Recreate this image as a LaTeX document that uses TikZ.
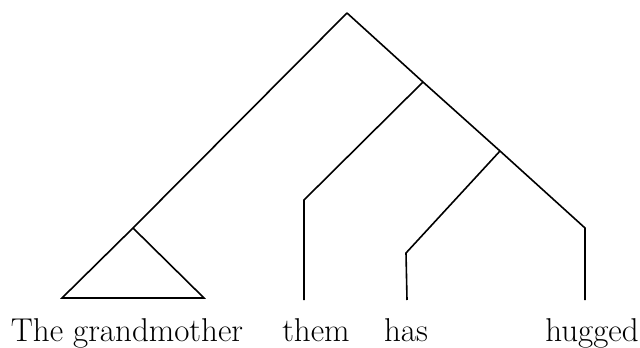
\documentclass[tikz,border=0pt]{standalone}
\usepackage{tikz}
\usetikzlibrary{positioning}

\begin{document}
\begin{tikzpicture}[x=0.5pt, y=-0.5pt, line width=0.8pt]
        \tikzset{word/.style={font=\fontsize{16.5}{20}\selectfont, anchor=base, inner sep=0pt}}
        \useasboundingbox (0, 0) rectangle (640, 347);

        % Branch points
        \coordinate (root) at (347, 13);
        \coordinate (np) at (133, 228);
        \coordinate (npL) at (62, 298);
        \coordinate (npR) at (204, 298);
        \coordinate (vp) at (423, 82);
        \coordinate (vbar) at (500, 151);
        \coordinate (themTop) at (304, 200);
        \coordinate (themEnd) at (304, 300);
        \coordinate (hasTop) at (406, 253);
        \coordinate (hasEnd) at (407, 300);
        \coordinate (huggedTop) at (585, 228);
        \coordinate (huggedEnd) at (585, 300);

        % Words
        \node[word] (grand) at (127, 341) {The grandmother};
        \node[word] (them) at (316, 341) {them};
        \node[word] (has) at (406, 341) {has};
        \node[word] (hugged) at (592, 341) {hugged};

        % Tree
        \draw (root) -- (np) -- (npL) -- (npR) -- (np);
        \draw (root) -- (vp) -- (vbar) -- (huggedTop) -- (huggedEnd);
        \draw (vp) -- (themTop) -- (themEnd);
        \draw (vbar) -- (hasTop) -- (hasEnd);
    \end{tikzpicture}
\end{document}
